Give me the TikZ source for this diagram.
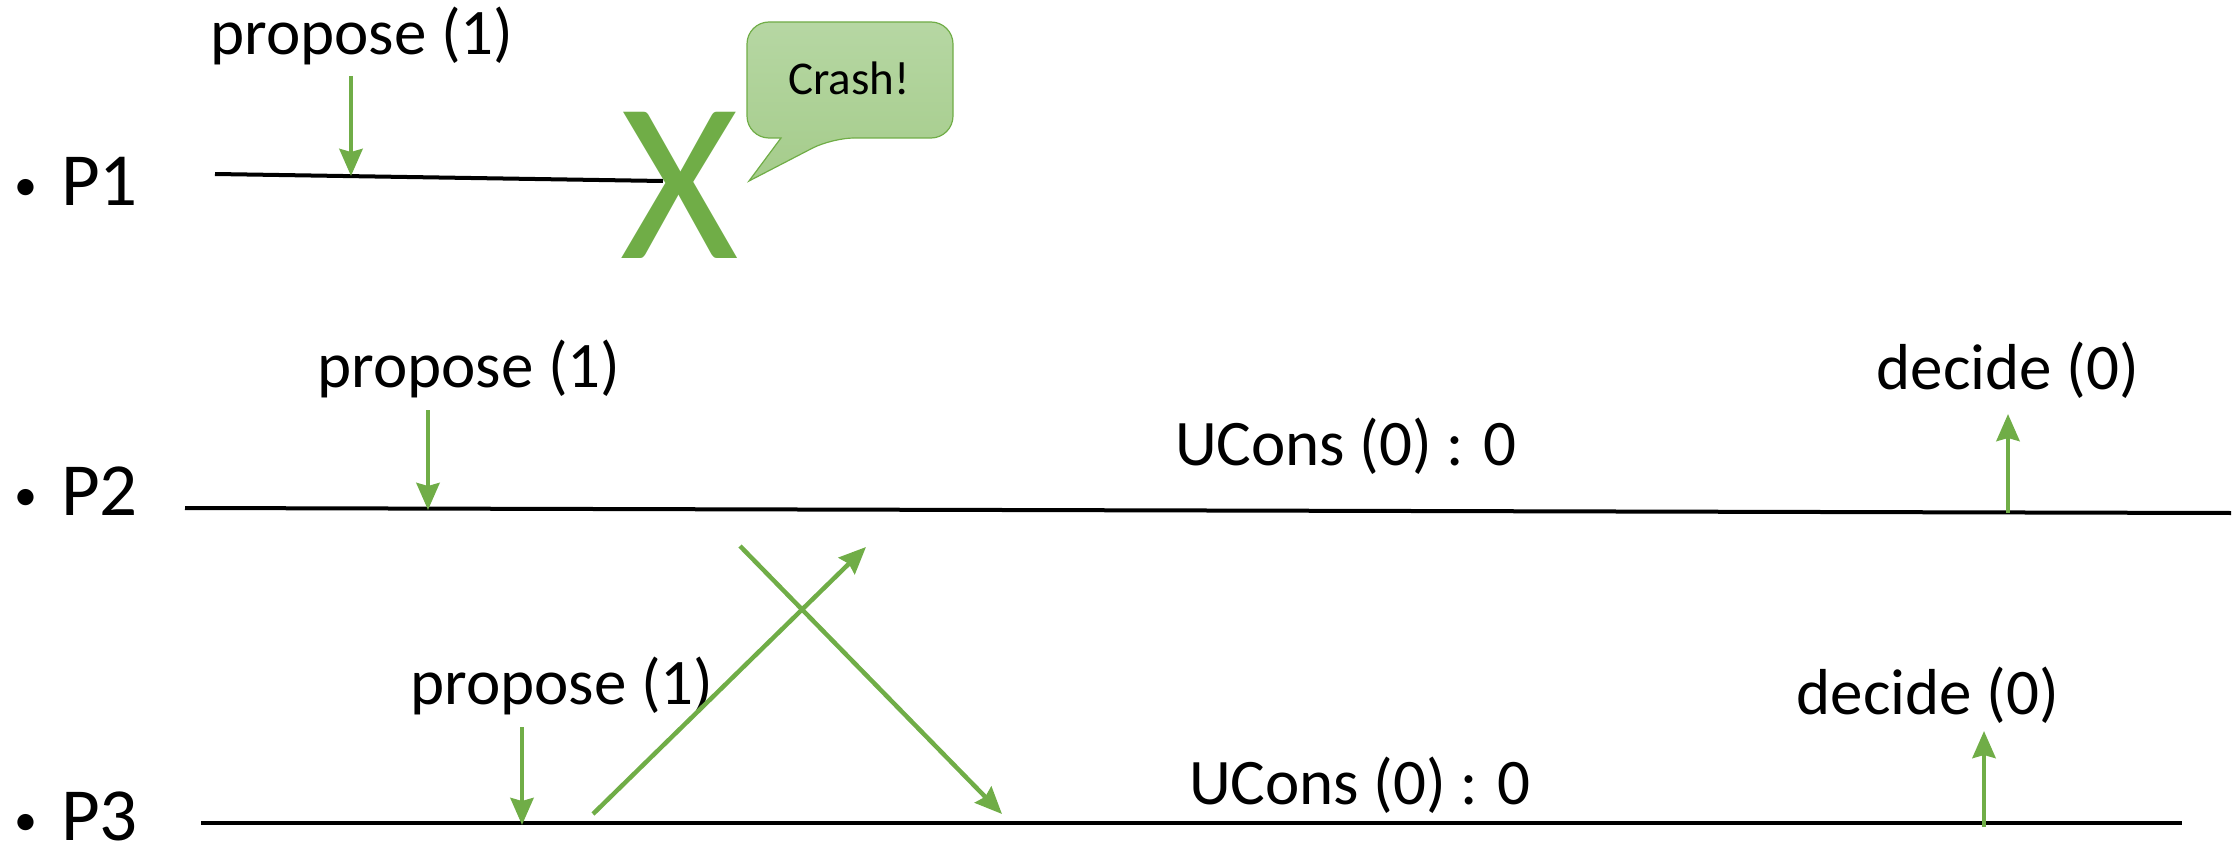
\documentclass[tikz,border=0pt]{standalone}
\usepackage{fontspec}
\setmainfont{Carlito}
\usetikzlibrary{arrows.meta}
\definecolor{accgreen}{HTML}{70AD47}
\definecolor{bubbletop}{HTML}{B6D7A3}
\definecolor{bubblebot}{HTML}{A5CC8B}
\newcommand{\pbullet}{{\fontsize{46}{46}\selectfont\raisebox{5pt}{•}}\hspace{24pt}}

\begin{document}
\begin{tikzpicture}[x=1pt,y=1pt,
    proc/.style={anchor=base west,inner sep=0,font=\fontsize{75}{90}\selectfont},
    lbl/.style={anchor=base,inner sep=0,font=\fontsize{65}{78}\selectfont},
    timeline/.style={line width=4pt,line cap=butt},
    msg/.style={draw=accgreen,line width=4.5pt,-{Stealth[length=27pt,width=23pt,inset=3pt]}},
    bubble/.style={draw=accgreen,line width=1.2pt,top color=bubbletop,bottom color=bubblebot}]
                \useasboundingbox (0,0) rectangle (2239,-856);

                % processes
                \node [proc] (1) at (14,-205) {\pbullet P1};
                \node [proc] (2) at (14,-515) {\pbullet P2};
                \node [proc] (3) at (14,-840) {\pbullet P3};

                % time lines
                \coordinate (4) at (215,-174);
                \coordinate (5) at (663,-181);
                \coordinate (6) at (185,-508);
                \coordinate (7) at (2231,-513);
                \coordinate (8) at (201,-823);
                \coordinate (9) at (2182,-823);
                \draw[timeline] (4) -- (5);
                \draw[timeline] (6) -- (7);
                \draw[timeline] (8) -- (9);

                % crash of P1
                \node [inner sep=0, text=accgreen, font=\fontsize{228}{228}\selectfont] (10) at (680,-185) {X};
                \draw[bubble] (749,-181) -- (781,-138) [rounded corners=22pt] -- (747,-138) -- (747,-22)
                    -- (953,-22) -- (953,-138) -- (832,-138) [sharp corners] -- cycle;
                \node [inner sep=0, font=\fontsize{47}{56}\selectfont] (11) at (849,-78) {Crash!};

                % labels
                \node [lbl] (12) at (362,-55) {propose (1)};
                \node [lbl] (13) at (469,-387) {propose (1)};
                \node [lbl] (14) at (562,-704) {propose (1)};
                \node [lbl] (15) at (1346,-465) {UCons (0) : 0};
                \node [lbl] (16) at (1360,-804) {UCons (0) : 0};
                \node [lbl] (17) at (2008,-389) {decide (0)};
                \node [lbl] (18) at (1928,-714) {decide (0)};

                % arrow ends
                \coordinate (19) at (351,-76);   \coordinate (20) at (351,-176);
                \coordinate (21) at (428,-410);  \coordinate (22) at (428,-510);
                \coordinate (23) at (522,-727);  \coordinate (24) at (522,-825);
                \coordinate (25) at (2008,-513); \coordinate (26) at (2008,-414);
                \coordinate (27) at (1984,-827); \coordinate (28) at (1984,-731);
                \coordinate (29) at (593,-814);  \coordinate (30) at (866,-547);
                \coordinate (31) at (740,-546);  \coordinate (32) at (1002,-814);

                \draw[msg] (19) -- (20);
                \draw[msg] (21) -- (22);
                \draw[msg] (23) -- (24);
                \draw[msg] (25) -- (26);
                \draw[msg] (27) -- (28);
                \draw[msg] (29) -- (30);
                \draw[msg] (31) -- (32);
\end{tikzpicture}
\end{document}
